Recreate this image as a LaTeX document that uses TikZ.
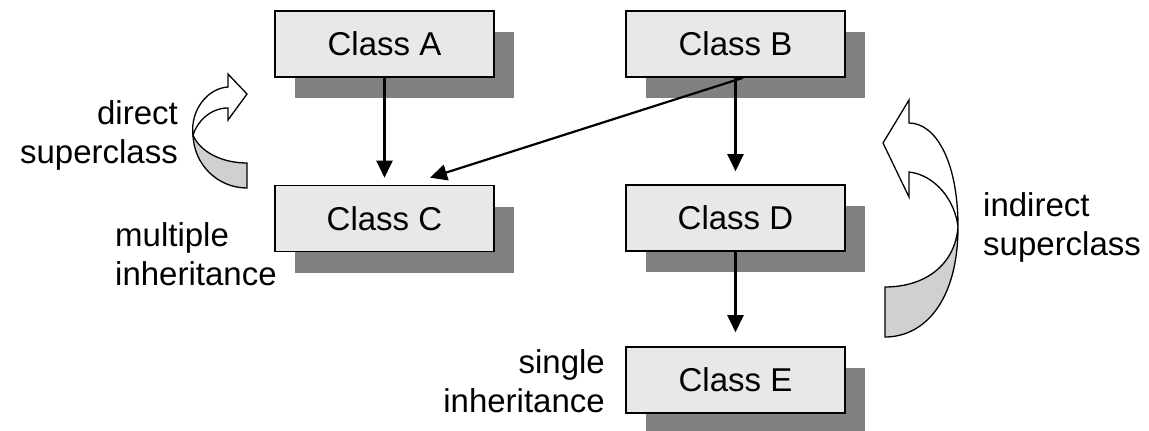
\documentclass[tikz,border=0pt]{standalone}
\usepackage{fontspec}
\setmainfont{Liberation Sans}
\usetikzlibrary{arrows.meta,shadows}
\definecolor{boxfill}{HTML}{E8E8E8}
\definecolor{shadowgray}{HTML}{808080}
\definecolor{backgray}{HTML}{D0D0D0}
\begin{document}
\begin{tikzpicture}[x=1pt,y=-1pt,
  classbox/.style={draw=black, line width=1.6pt, fill=boxfill, minimum width=219pt, minimum height=66pt, inner sep=0pt,
    font=\fontsize{33}{39}\selectfont,
    drop shadow={shadow xshift=20pt, shadow yshift=-21pt, fill=shadowgray, opacity=1}},
  inh/.style={line width=2.2pt, -{Triangle[length=17pt,width=16pt]}},
  lbl/.style={inner sep=0pt, font=\fontsize{33}{39}\selectfont},
  curv/.style={draw=black, line width=1.3pt, line join=miter}
]
\useasboundingbox (0,0) rectangle (1149,431);
\fill[white] (0,0) rectangle (1149,431);

\node[classbox] (A) at (384.5,44) {Class A};
\node[classbox] (B) at (735.5,44) {Class B};
\node[classbox] (C) at (384.5,218.5) {Class C};
\node[classbox] (D) at (735.5,218) {Class D};
\node[classbox] (E) at (735.5,380) {Class E};

\draw[inh, shorten >=7pt] (A) -- (C);
\draw[inh, shorten >=13pt] (B) -- (D);
\draw[inh, shorten >=14pt] (D) -- (E);
\draw[inh] ([xshift=7.5pt]B.south) -- ([xshift=45.5pt,yshift=7pt]C.north);

% direct superclass curved arrow
\filldraw[curv, fill=backgray] (193,135) .. controls (194,165) and (218,188) .. (247,188) -- (247,163) .. controls (222,163) and (200,152) .. (193,135) -- cycle;
\filldraw[curv, fill=white] (193,135) .. controls (190,110) and (208,88) .. (228,87) -- (228,74) -- (247,94) -- (228,120) -- (228,108) .. controls (210,108) and (197,122) .. (193,135) -- cycle;

% indirect superclass curved arrow
\filldraw[curv, fill=backgray] (958,227) .. controls (958,300) and (925,337) .. (885,337) -- (885,287) .. controls (925,287) and (955,265) .. (958,227) -- cycle;
\filldraw[curv, fill=white] (958,227) .. controls (958,160) and (935,123) .. (909,123) -- (909,100) -- (883,143) -- (909,197) -- (909,172) .. controls (935,175) and (955,200) .. (958,227) -- cycle;

\node[lbl, align=right, anchor=base east] (ds) at (178,163) {direct\\superclass};
\node[lbl, align=left, anchor=base west] (mi) at (115,285) {multiple\\inheritance};
\node[lbl, align=right, anchor=base east] (si) at (605,412) {single\\inheritance};
\node[lbl, align=left, anchor=base west] (is) at (983,255) {indirect\\superclass};
\end{tikzpicture}
\end{document}
